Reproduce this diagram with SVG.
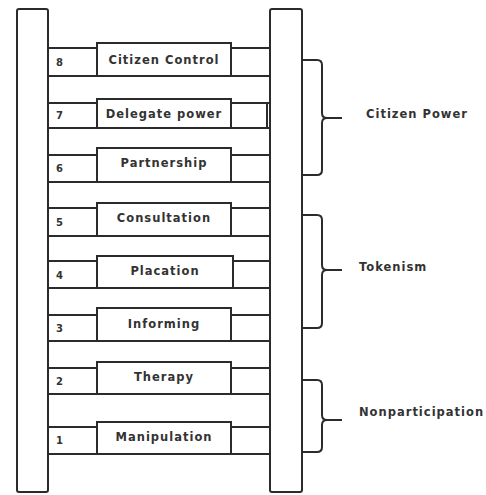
<svg xmlns="http://www.w3.org/2000/svg" width="486" height="495" viewBox="0 0 486 495">
<style>
.ln{fill:none;stroke:#2b2b2b;stroke-width:2;stroke-linejoin:miter}
.rail{fill:#fff;stroke:#2b2b2b;stroke-width:2}
.lbl{font-family:"DejaVu Sans","Liberation Sans",Arial,sans-serif;font-weight:bold;font-size:11.5px;letter-spacing:1px;fill:#333;text-anchor:middle}
.num{font-family:"DejaVu Sans","Liberation Sans",Arial,sans-serif;font-weight:bold;font-size:10px;fill:#333}
.grp{font-family:"DejaVu Sans","Liberation Sans",Arial,sans-serif;font-weight:bold;font-size:11.5px;letter-spacing:1px;fill:#333}
</style>
<rect width="486" height="495" fill="#fff"/>
<g id="rail-left"><rect class="rail" x="17" y="9" width="31" height="483" rx="2"/></g>
<g id="rail-right"><rect class="rail" x="270" y="9" width="32" height="483" rx="2"/></g>

<g id="rung8"><path class="ln" d="M48,48 H97 M97,76 V43 H231 V76 M231,48 H270 M48,76 H270"/>
<text class="num" x="56" y="66">8</text><text class="lbl" x="164" y="64">Citizen Control</text></g>
<g id="rung7"><path class="ln" d="M48,103 H97 M97,128 V99 H231 V128 M231,103 H270 M267,103 V128 M48,128 H270"/>
<text class="num" x="56" y="119">7</text><text class="lbl" x="164" y="118">Delegate power</text></g>
<g id="rung6"><path class="ln" d="M48,155 H97 M97,182 V148 H231 V182 M231,155 H270 M48,182 H270"/>
<text class="num" x="56" y="172">6</text><text class="lbl" x="164" y="167">Partnership</text></g>
<g id="rung5"><path class="ln" d="M48,208 H97 M97,236 V203 H231 V236 M231,208 H270 M48,236 H270"/>
<text class="num" x="56" y="226">5</text><text class="lbl" x="164" y="222">Consultation</text></g>
<g id="rung4"><path class="ln" d="M48,261 H97 M97,288 V256 H233 V288 M233,261 H270 M48,288 H270"/>
<text class="num" x="56" y="279">4</text><text class="lbl" x="165" y="275">Placation</text></g>
<g id="rung3"><path class="ln" d="M48,315 H97 M97,341 V308 H231 V341 M231,315 H270 M48,341 H270"/>
<text class="num" x="56" y="332">3</text><text class="lbl" x="164" y="328">Informing</text></g>
<g id="rung2"><path class="ln" d="M48,368 H97 M97,394 V362 H231 V394 M231,368 H270 M48,394 H270"/>
<text class="num" x="56" y="385">2</text><text class="lbl" x="164" y="381">Therapy</text></g>
<g id="rung1"><path class="ln" d="M48,427 H97 M97,454 V422 H231 V454 M231,427 H270 M48,454 H270"/>
<text class="num" x="56" y="444">1</text><text class="lbl" x="164" y="441">Manipulation</text></g>

<g id="connectors">
<path class="ln" d="M302,60 H317 Q322,60 322,65 V113 Q322,118 327,118 H342 M327,118 Q322,118 322,123 V170 Q322,175 317,175 H302"/>
<path class="ln" d="M302,215 H317 Q322,215 322,220 V265 Q322,270 327,270 H342 M327,270 Q322,270 322,275 V323 Q322,328 317,328 H302"/>
<path class="ln" d="M302,380 H317 Q322,380 322,385 V415 Q322,420 327,420 H342 M327,420 Q322,420 322,425 V447 Q322,452 317,452 H302"/>
</g>
<g id="group-citizen-power"><text class="grp" x="366" y="118">Citizen Power</text></g>
<g id="group-tokenism"><text class="grp" x="359" y="271">Tokenism</text></g>
<g id="group-nonparticipation"><text class="grp" x="359" y="416">Nonparticipation</text></g>
</svg>
